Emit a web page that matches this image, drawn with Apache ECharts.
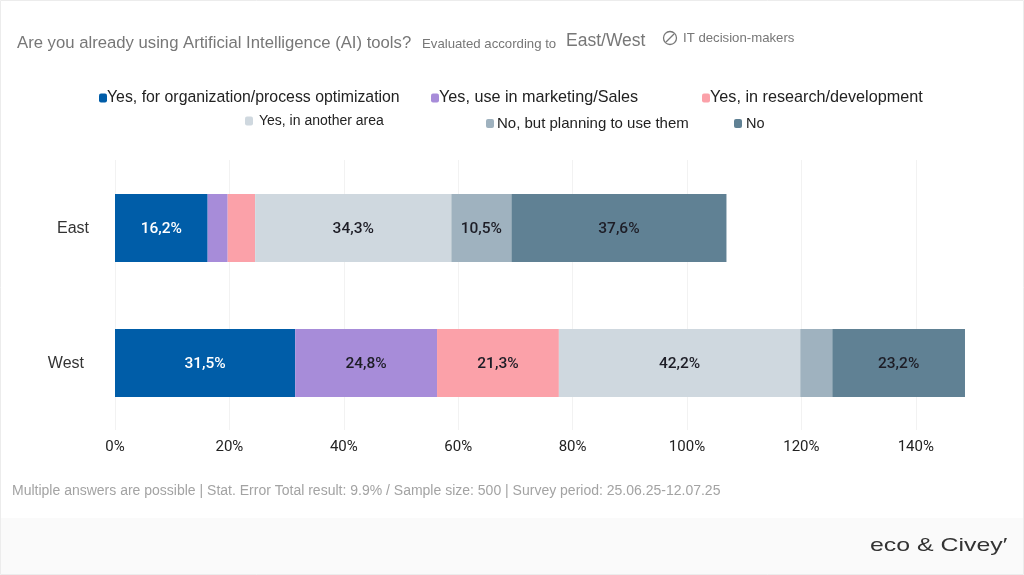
<![CDATA[<!DOCTYPE html>
<html><head><meta charset="utf-8">
<style>html,body{margin:0;padding:0;background:#fff}#c{width:1024px;height:575px}</style>
<script src="https://cdn.jsdelivr.net/npm/echarts@6/dist/echarts.min.js"></script></head>
<body><div id="c"></div>
<script>
const categories = ['East','West'];
const seriesNames = ['Yes, for organization/process optimization','Yes, use in marketing/Sales','Yes, in research/development','Yes, in another area','No, but planning to use them','No'];
const colors = ['#005DA8','#A78CD9','#FBA1A9','#CFD8DF','#9FB2BF','#608194'];
const labelColors = ['#ffffff','#1d1d26','#1d1d26','#1d1d26','#1d1d26','#1d1d26'];
const optimization = [16.2,31.5];
const marketing = [3.5,24.8];
const research = [4.8,21.3];
const anotherArea = [34.3,42.2];
const planning = [10.5,5.6];
const noUse = [37.6,23.2];
const values = [optimization,marketing,research,anotherArea,planning,noUse];
const legendSpots = [
 {left:99,top:90,size:15.85},
 {left:431,top:90,size:16.2},
 {left:702,top:90,size:16.2},
 {left:245,top:114,size:14,gap:6},
 {left:486,top:116,size:15,gap:3},
 {left:734,top:116,size:14.5,gap:4}
];
const plainTitle = (text,left,top,fontSize,color)=>({text,left,top,padding:0,textStyle:{fontFamily:'"Liberation Sans"',fontSize,fontWeight:'normal',color}});
const chart = echarts.init(document.getElementById('c'),null,{renderer:'canvas'});
chart.setOption({
 animation:false,
 backgroundColor:'#ffffff',
 title:[
  plainTitle('Are you already using Artificial Intelligence (AI) tools?',17,35,16.7,'#777'),
  plainTitle('Evaluated according to',422,38,13.2,'#777'),
  plainTitle('East/West',566,32,17.5,'#777'),
  plainTitle('IT decision-makers',683,32,13.2,'#777'),
  plainTitle('Multiple answers are possible | Stat. Error Total result: 9.9% / Sample size: 500 | Survey period: 25.06.25-12.07.25',12,484,14,'#a3a3a3')
 ],
 graphic:[
  {type:'rect',z:-1,silent:true,shape:{x:0,y:518,width:1024,height:57},style:{fill:'#fafafa'}},
  {type:'rect',z:-1,silent:true,shape:{x:0.5,y:0.5,width:1023,height:574},style:{fill:'none',stroke:'#ececec'}},
  {type:'circle',silent:true,shape:{cx:670,cy:38,r:6.5},style:{fill:'none',stroke:'#777',lineWidth:1.3}},
  {type:'line',silent:true,shape:{x1:666,y1:42,x2:674,y2:34},style:{stroke:'#777',lineWidth:1.3}},
  {type:'text',silent:true,x:870,y:536,scaleX:1.31,style:{text:'eco & Civey\u2032',fontFamily:'"Liberation Sans"',fontSize:19,fill:'#333'}}
 ],
 legend:seriesNames.map((n,i)=>({
  data:[n],left:legendSpots[i].left,top:legendSpots[i].top,
  itemWidth:8,itemHeight:9,icon:'roundRect',padding:0,selectedMode:false,
  textStyle:{fontFamily:'"Liberation Sans"',fontSize:legendSpots[i].size,color:'#222',padding:[0,0,0,(legendSpots[i].gap||0)-5]}
 })),
 grid:{left:115,top:160.5,width:858,height:270,containLabel:false},
 xAxis:{type:'value',min:0,max:150,interval:20,
  axisLine:{show:false},axisTick:{show:false},
  axisLabel:{showMaxLabel:false,formatter:'{value}%',margin:9,fontFamily:'Roboto',fontSize:15,color:'#222'},
  splitLine:{show:true,showMaxLine:false,lineStyle:{color:'#e6e6e6',type:'dotted',width:1}}},
 yAxis:{type:'category',data:categories,inverse:true,
  axisLine:{show:false},axisTick:{show:false},
  axisLabel:{margin:26,fontFamily:'"Liberation Sans"',fontSize:16,color:'#333',
   formatter:v=>v==='West'?'{w|'+v+'}':'{e|'+v+'}',
   rich:{w:{fontFamily:'"Liberation Sans"',fontSize:16,color:'#333',padding:[2,5,0,0]},e:{fontFamily:'"Liberation Sans"',fontSize:16,color:'#333',padding:[2,0,0,0]}}}},
 series:seriesNames.map((n,i)=>({
  name:n,type:'bar',stack:'all',barWidth:68,data:values[i],
  itemStyle:{color:colors[i]},
  label:{show:true,position:'inside',offset:[0,1],color:labelColors[i],fontFamily:'Roboto',fontSize:15.5,fontWeight:500,
   formatter:p=>p.value>=10?p.value.toFixed(1).replace('.',',')+'%':''}
 }))
});
</script></body></html>]]>
